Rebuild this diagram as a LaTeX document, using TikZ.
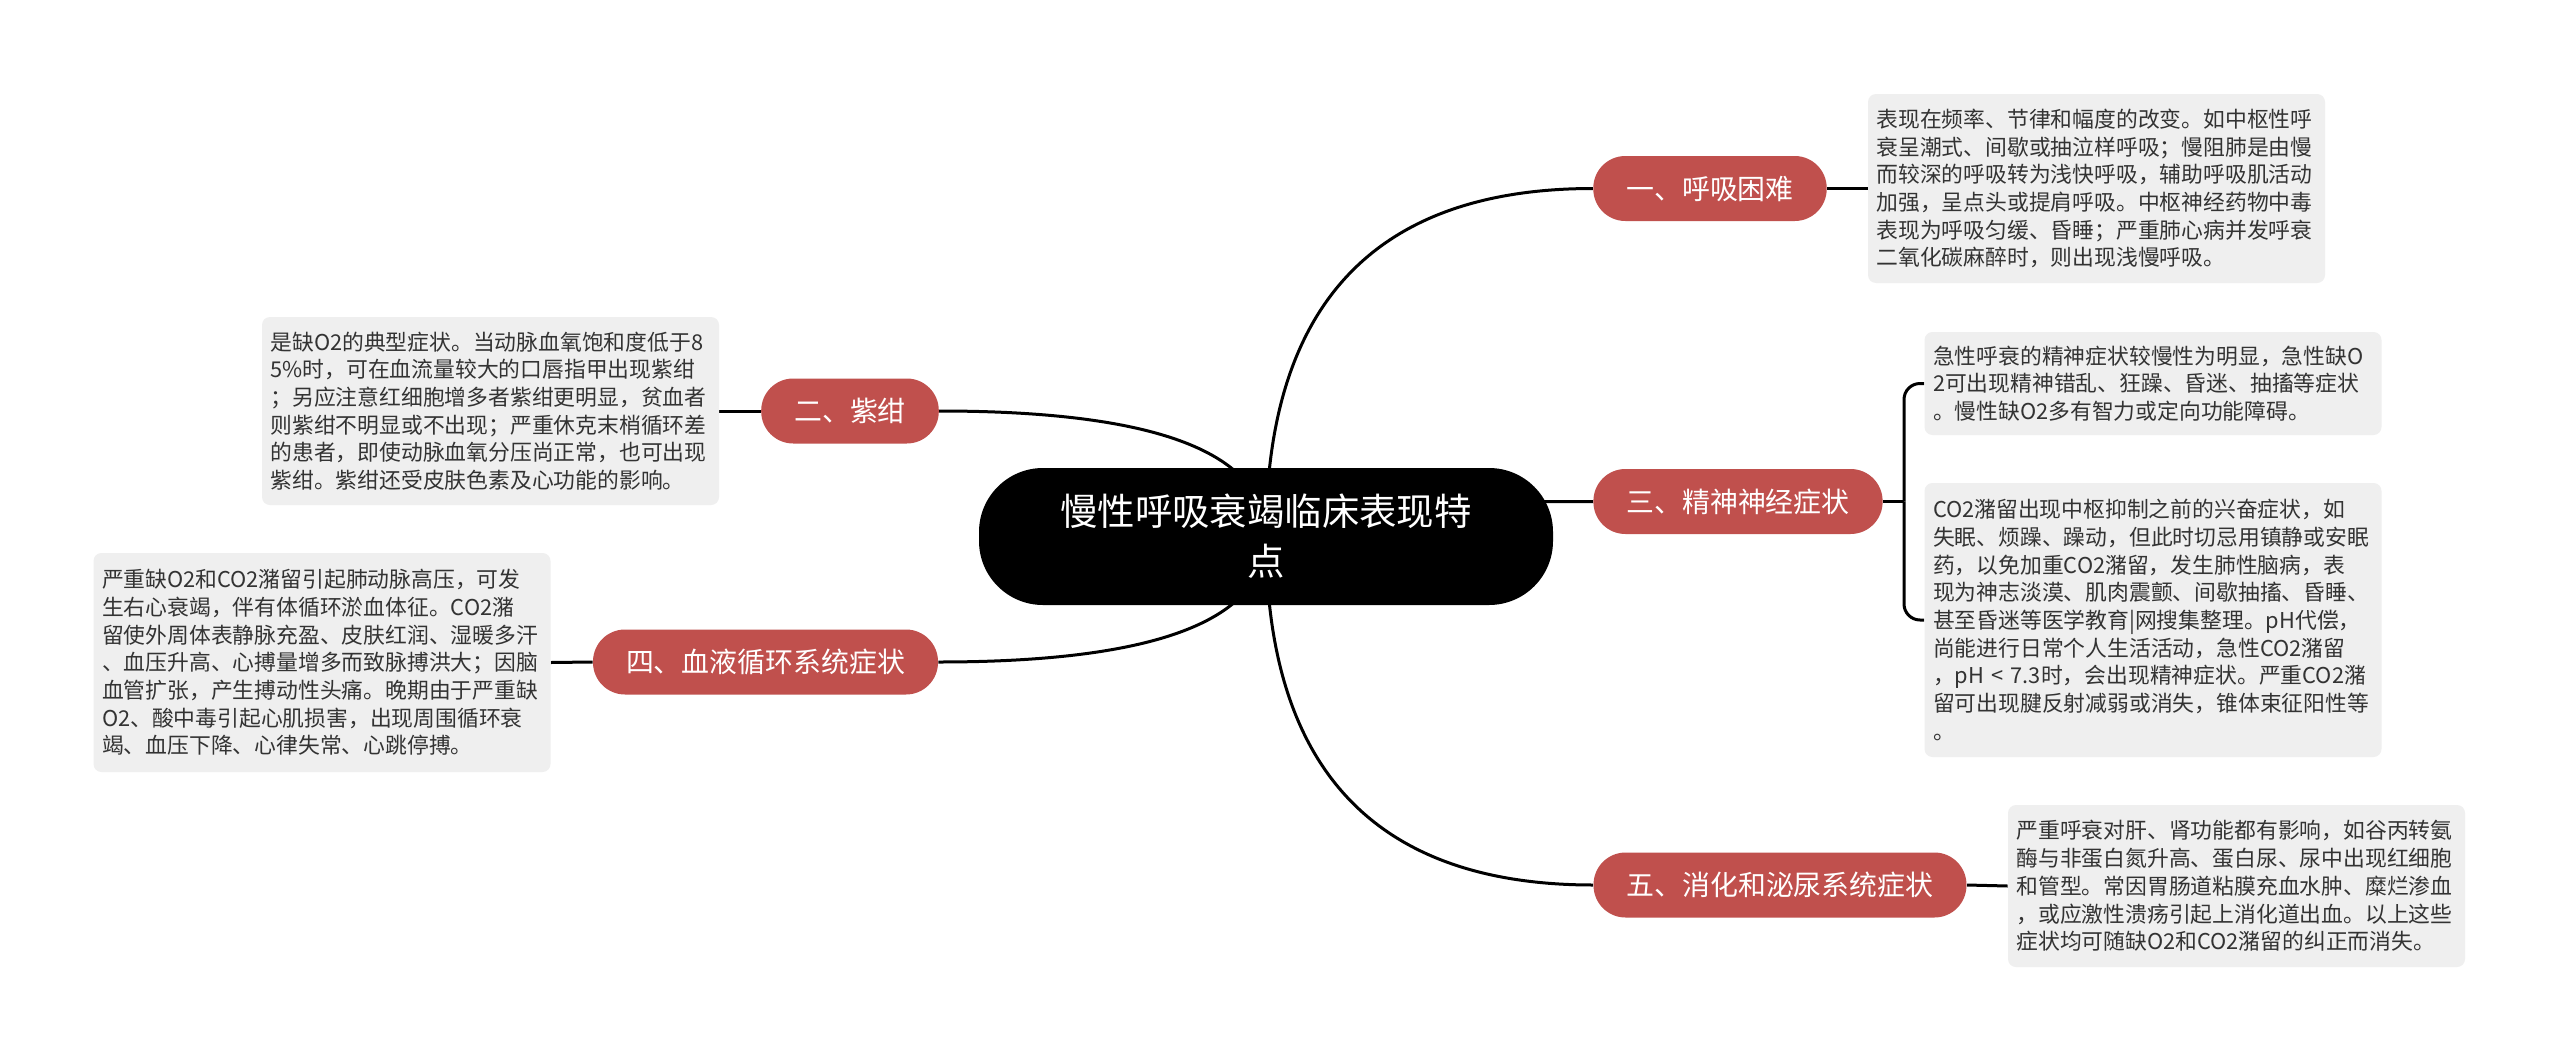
\documentclass[tikz,border=0pt]{standalone}
\usepackage{fontspec}
\setmainfont{Noto Sans CJK SC}
\usetikzlibrary{backgrounds,calc}
\definecolor{branchred}{HTML}{C0504D}
\definecolor{leafgray}{HTML}{EFEFEF}
\definecolor{leaftext}{HTML}{333333}
\begin{document}
\begin{tikzpicture}[x=0.5pt,y=-0.5pt,
  rootbox/.style={fill=black, text=white, rounded corners=32pt, minimum width=287pt, minimum height=68.5pt, align=center, inner sep=0pt, font=\fontsize{18.7pt}{25pt}\selectfont},
  branchbox/.style={fill=branchred, text=white, rounded corners=16pt, minimum height=32.5pt, inner xsep=16.5pt, inner ysep=0pt, font=\fontsize{13.95pt}{16pt}\selectfont},
  leafbox/.style={fill=leafgray, text=leaftext, rounded corners=4pt, text width=220pt, inner xsep=4.25pt, inner ysep=0pt, align=left, font=\fontsize{10.9pt}{13.85pt}\selectfont},
  link/.style={line width=1.5pt, black}]
\useasboundingbox (0,0) rectangle (2560,1060);

\node[rootbox] (root) at (1266,536.5) {慢性呼吸衰竭临床表现特\\点};

\node[branchbox] (b1) at (1710,188.5) {一、呼吸困难};
\node[branchbox] (b2) at (850,411) {二、紫绀};
\node[branchbox] (b3) at (1738,501.5) {三、精神神经症状};
\node[branchbox] (b4) at (765.5,662) {四、血液循环系统症状};
\node[branchbox] (b5) at (1780,885) {五、消化和泌尿系统症状};

\node[leafbox, minimum height=94.5pt] (l1) at (2096.5,188.5) {表现在频率、节律和幅度的改变。如中枢性呼\\衰呈潮式、间歇或抽泣样呼吸；慢阻肺是由慢\\而较深的呼吸转为浅快呼吸，辅助呼吸肌活动\\加强，呈点头或提肩呼吸。中枢神经药物中毒\\表现为呼吸匀缓、昏睡；严重肺心病并发呼衰\\二氧化碳麻醉时，则出现浅慢呼吸。};

\node[leafbox, minimum height=51.5pt] (l3a) at (2153,383.5) {急性呼衰的精神症状较慢性为明显，急性缺O\\2可出现精神错乱、狂躁、昏迷、抽搐等症状\\。慢性缺O2多有智力或定向功能障碍。};

\node[leafbox, minimum height=137pt] (l3b) at (2153,620) {CO2潴留出现中枢抑制之前的兴奋症状，如\\失眠、烦躁、躁动，但此时切忌用镇静或安眠\\药，以免加重CO2潴留，发生肺性脑病，表\\现为神志淡漠、肌肉震颤、间歇抽搐、昏睡、\\甚至昏迷等医学教育|网搜集整理。pH代偿，\\尚能进行日常个人生活活动，急性CO2潴留\\，pH < 7.3时，会出现精神症状。严重CO2潴\\留可出现腱反射减弱或消失，锥体束征阳性等\\。};

\node[leafbox, minimum height=81pt] (l5) at (2236.5,886) {严重呼衰对肝、肾功能都有影响，如谷丙转氨\\酶与非蛋白氮升高、蛋白尿、尿中出现红细胞\\和管型。常因胃肠道粘膜充血水肿、糜烂渗血\\，或应激性溃疡引起上消化道出血。以上这些\\症状均可随缺O2和CO2潴留的纠正而消失。};

\node[leafbox, minimum height=94pt] (l2) at (490.5,411) {是缺O2的典型症状。当动脉血氧饱和度低于8\\5\%时，可在血流量较大的口唇指甲出现紫绀\\；另应注意红细胞增多者紫绀更明显，贫血者\\则紫绀不明显或不出现；严重休克末梢循环差\\的患者，即使动脉血氧分压尚正常，也可出现\\紫绀。紫绀还受皮肤色素及心功能的影响。};

\node[leafbox, minimum height=109.5pt] (l4) at (322,662.5) {严重缺O2和CO2潴留引起肺动脉高压，可发\\生右心衰竭，伴有体循环淤血体征。CO2潴\\留使外周体表静脉充盈、皮肤红润、湿暖多汗\\、血压升高、心搏量增多而致脉搏洪大；因脑\\血管扩张，产生搏动性头痛。晚期由于严重缺\\O2、酸中毒引起心肌损害，出现周围循环衰\\竭、血压下降、心律失常、心跳停搏。};

\coordinate (j3) at (1904,501.5);

\begin{pgfonlayer}{background}
\fill[white] (0,0) rectangle (2560,1060);
\draw[link] (root.center) .. controls ($(root.center)!0.667!(root.center |- b1.west)$) and ($(b1.west)!0.667!(root.center |- b1.west)$) .. (b1.west);
\draw[link] (root.center) .. controls ($(root.center)!0.667!(root.center |- b2.east)$) and ($(b2.east)!0.667!(root.center |- b2.east)$) .. (b2.east);
\draw[link] (root.center) .. controls ($(root.center)!0.667!(root.center |- b3.west)$) and ($(b3.west)!0.667!(root.center |- b3.west)$) .. (b3.west);
\draw[link] (root.center) .. controls ($(root.center)!0.667!(root.center |- b4.east)$) and ($(b4.east)!0.667!(root.center |- b4.east)$) .. (b4.east);
\draw[link] (root.center) .. controls ($(root.center)!0.667!(root.center |- b5.west)$) and ($(b5.west)!0.667!(root.center |- b5.west)$) .. (b5.west);
\draw[link] (b1.east) -- (l1.west);
\draw[link] (b2.west) -- (l2.east);
\draw[link] (b4.west) -- (l4.east);
\draw[link] (b5.east) -- (l5.west);
\draw[link] (b3.east) -- (j3);
\draw[link, rounded corners=8pt] (j3) |- (l3a.west);
\draw[link, rounded corners=8pt] (j3) |- (l3b.west);
\end{pgfonlayer}
\end{tikzpicture}
\end{document}
